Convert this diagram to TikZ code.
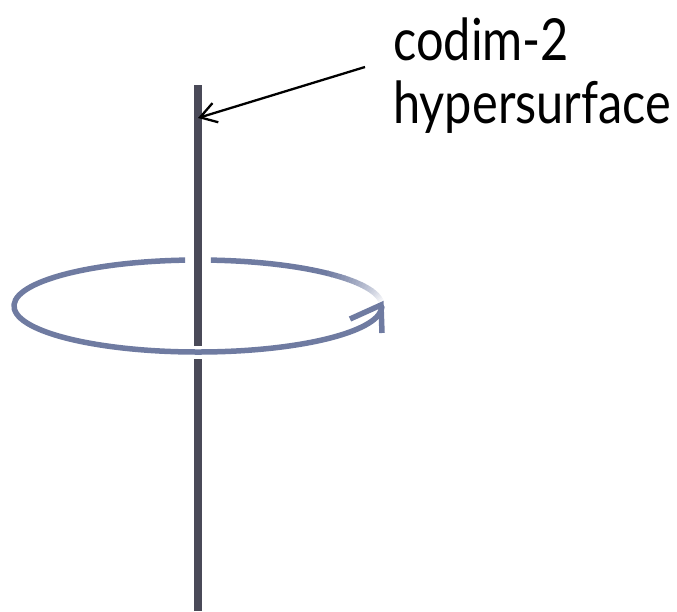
\documentclass[tikz,border=0pt]{standalone}
\usepackage{fontspec}
\setmainfont[FakeStretch=0.84]{Lato}
\usetikzlibrary{arrows.meta}
\definecolor{pole}{HTML}{4A4A58}
\definecolor{loop}{HTML}{6F7BA1}
\tikzset{
  polestyle/.style={draw=pole, line width=7.5pt},
  loopstyle/.style={draw=loop, line width=5.5pt},
  labelstyle/.style={font=\fontsize{58}{63}\selectfont, inner sep=0pt, anchor=base west},
  pointer/.style={draw=black, line width=2.3pt, -{Straight Barb[length=16pt,width=20pt]}}
}
\begin{document}
\begin{tikzpicture}[x=1pt,y=1pt]
\useasboundingbox (0,-611) rectangle (677,0);
% vertical hypersurface (behind the front of the loop)
\coordinate (top) at (198,-85);
\coordinate (gapA) at (198,-346);
\coordinate (gapB) at (198,-359);
\coordinate (bot) at (198,-611);
\draw[polestyle] (top) -- (gapA);
\draw[polestyle] (gapB) -- (bot);
% loop
\coordinate (c) at (198,-306);
\draw[loopstyle] (c) ++(94:184 and 46) arc[start angle=94, end angle=360, x radius=184, y radius=46];
\draw[loopstyle] (c) ++(45:184 and 46) arc[start angle=45, end angle=86, x radius=184, y radius=46];
\foreach \a in {3,5,...,43}{
  \pgfmathsetmacro{\p}{100*(\a-3)/42}
  \draw[draw=loop!\p!white, line width=5.5pt] (c) ++(\a:184 and 46) arc[start angle=\a, end angle=\a+2.3, x radius=184, y radius=46];
}
% arrow head of loop
\coordinate (tipL) at (381,-305);
\coordinate (barbA) at (350,-319);
\coordinate (barbB) at (382,-333);
\draw[loopstyle, miter limit=10] (barbA) -- (tipL) -- (barbB);
% label
\node[labelstyle] (l1) at (393,-60) {codim-2};
\node[labelstyle] (l2) at (393,-123) {hypersurface};
\coordinate (ptail) at (365,-67);
\coordinate (phead) at (198,-118);
\draw[pointer] (ptail) -- (phead);
\end{tikzpicture}
\end{document}
